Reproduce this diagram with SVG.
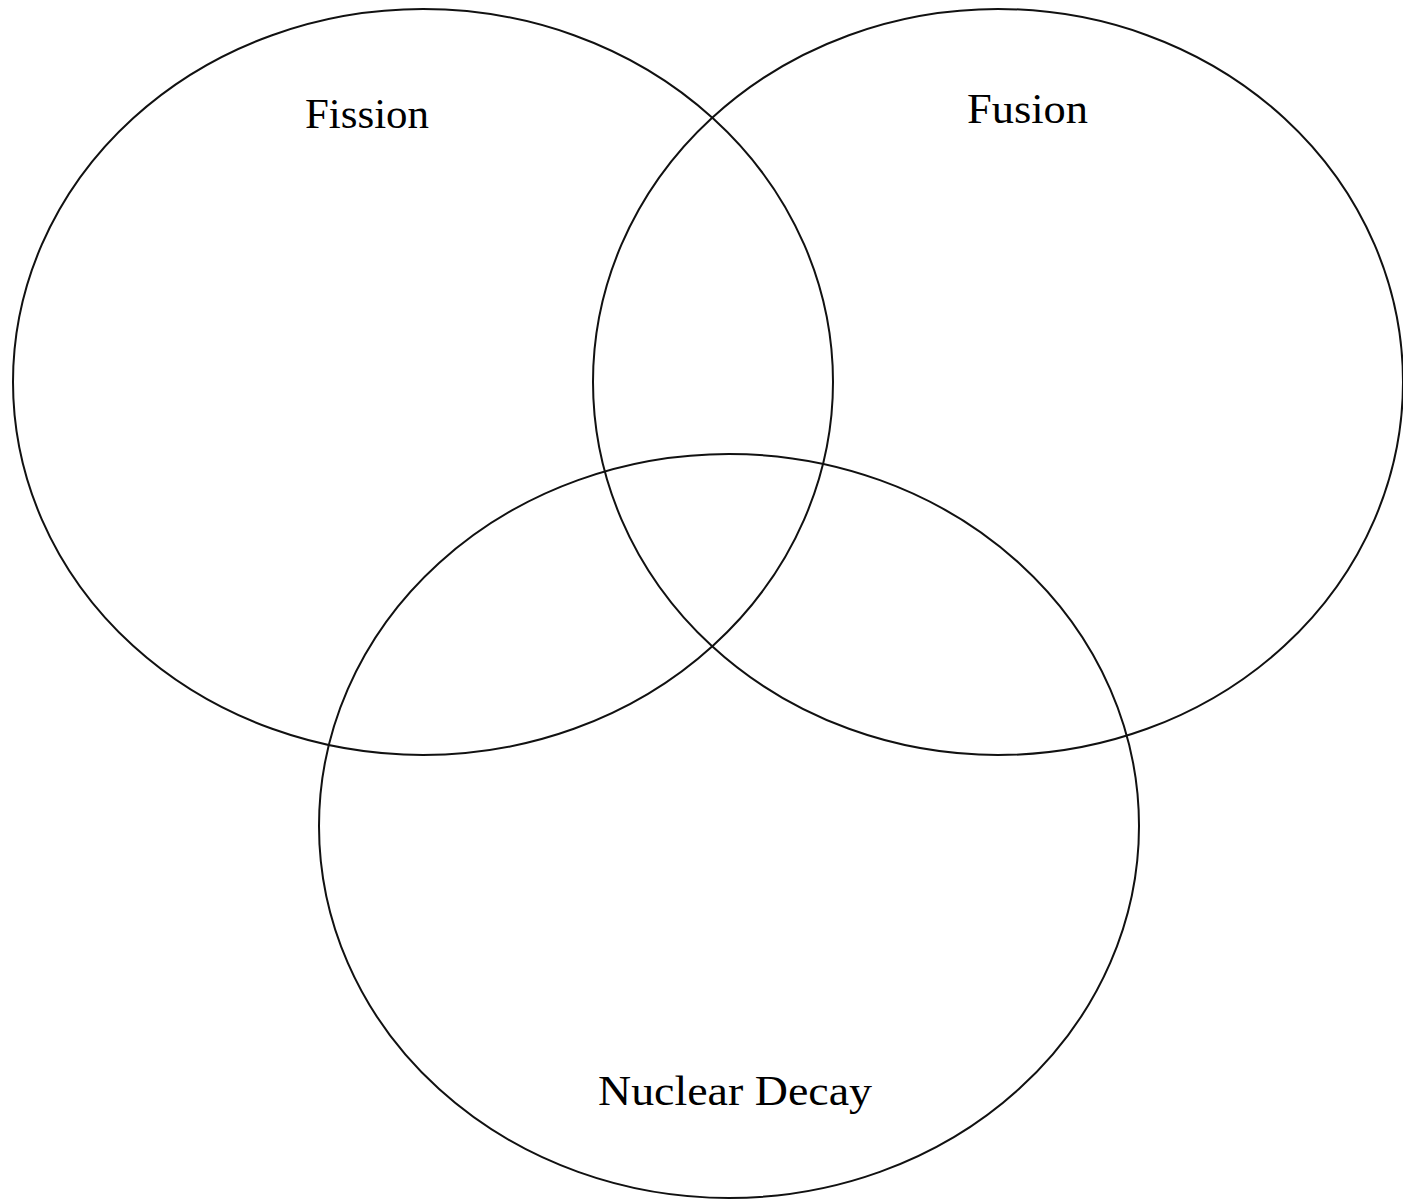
<svg xmlns="http://www.w3.org/2000/svg" width="1403" height="1201" viewBox="0 0 1403 1201">
<style>
.c{fill:none;stroke:#111;stroke-width:2}
.t{font-family:"Liberation Serif","Times New Roman",serif;font-size:43px;fill:#000}
</style>
<rect width="1403" height="1201" fill="#fff"/>
<g id="fission"><ellipse class="c" cx="423" cy="382" rx="410" ry="373"/><text class="t" x="305" y="128" textLength="124" lengthAdjust="spacingAndGlyphs">Fission</text></g>
<g id="fusion"><ellipse class="c" cx="998" cy="382" rx="405" ry="373"/><text class="t" x="967" y="123" textLength="121" lengthAdjust="spacingAndGlyphs">Fusion</text></g>
<g id="decay"><ellipse class="c" cx="729" cy="826" rx="410" ry="372"/><text class="t" x="598" y="1105" textLength="274" lengthAdjust="spacingAndGlyphs">Nuclear Decay</text></g>
<g id="connectors"/>
</svg>
